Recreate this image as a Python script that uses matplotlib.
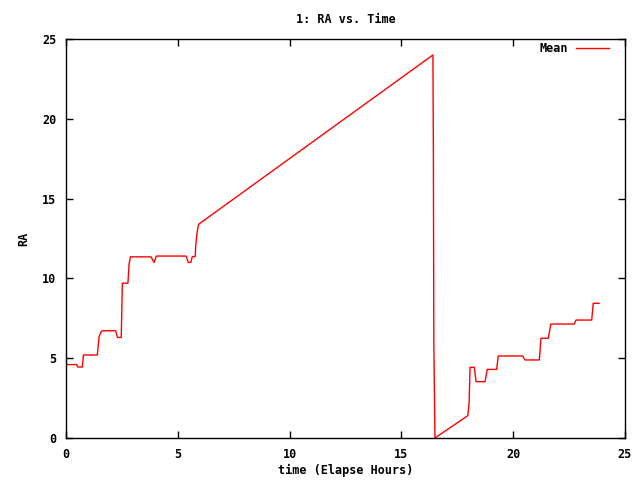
import matplotlib
matplotlib.use("Agg")
from matplotlib import pyplot as plt

# elapsed hours / RA
hours = [0.0, 0.02, 0.48, 0.52, 0.73, 0.78, 1.40, 1.48, 1.55, 1.61, 2.22, 2.30,
         2.47, 2.52, 2.77, 2.82, 2.88, 3.80, 3.94, 4.04, 5.37, 5.47, 5.58, 5.65,
         5.78, 5.80, 5.86, 5.93, 16.41, 16.43, 16.45, 16.50, 17.97, 18.03, 18.07,
         18.26, 18.34, 18.74, 18.84, 19.26, 19.33, 20.42, 20.53, 21.17, 21.24,
         21.57, 21.68, 22.73, 22.81, 23.51, 23.58, 23.84]
ra = [6.4, 4.6, 4.6, 4.45, 4.45, 5.2, 5.2, 6.35, 6.6, 6.72, 6.72, 6.3,
      6.3, 9.7, 9.7, 10.9, 11.35, 11.35, 11.0, 11.4, 11.4, 11.0, 11.0, 11.37,
      11.37, 12.0, 12.85, 13.39, 24.0, 18.0, 6.0, 0.0, 1.40, 2.2, 4.43,
      4.43, 3.53, 3.53, 4.3, 4.3, 5.14, 5.14, 4.89, 4.89, 6.25,
      6.25, 7.14, 7.14, 7.39, 7.39, 8.44, 8.44]

xticks = [0, 5, 10, 15, 20, 25]
yticks = [0, 5, 10, 15, 20, 25]

def main():
    plt.rcParams['font.family'] = ['DejaVu Sans Mono']
    plt.rcParams['font.size'] = 8.5
    plt.rcParams['font.weight'] = 'bold'

    fig = plt.figure(figsize=(6.4, 4.8), dpi=100)
    ax = fig.add_axes([66/640, 42/480, (625-66)/640, (438-39)/480])

    ax.plot(hours, ra, color='#ff0000', linewidth=1, label='Mean')

    ax.set_xlim(0, 25)
    ax.set_ylim(0, 25)
    ax.set_xticks(xticks)
    ax.set_yticks(yticks)
    ax.tick_params(direction='in', top=True, right=True, length=5, width=1,
                   pad=7, labelsize=8.5)
    for s in ax.spines.values():
        s.set_linewidth(1)

    ax.set_title("1: RA vs. Time", fontsize=8.5, fontweight='bold', y=1.05,
                 va='center', pad=0)
    ax.set_xlabel("time (Elapse Hours)", fontsize=8.5, fontweight='bold')
    ax.xaxis.set_label_coords(0.5, -0.082)
    ax.xaxis.label.set_va('center')
    ax.set_ylabel("RA", fontsize=8.5, fontweight='bold')
    ax.yaxis.set_label_coords(-0.075, 0.5)
    ax.yaxis.label.set_va('center')

    leg = ax.legend(loc='upper right', frameon=False, markerfirst=False,
                    handlelength=2.8, handletextpad=0.7, borderpad=0,
                    borderaxespad=0,
                    bbox_to_anchor=((609-66)/559, (438-42)/399))
    leg.get_texts()[0].set_fontweight('bold')

    fig.savefig("out.png", dpi=100)

if __name__ == '__main__':
    main()
